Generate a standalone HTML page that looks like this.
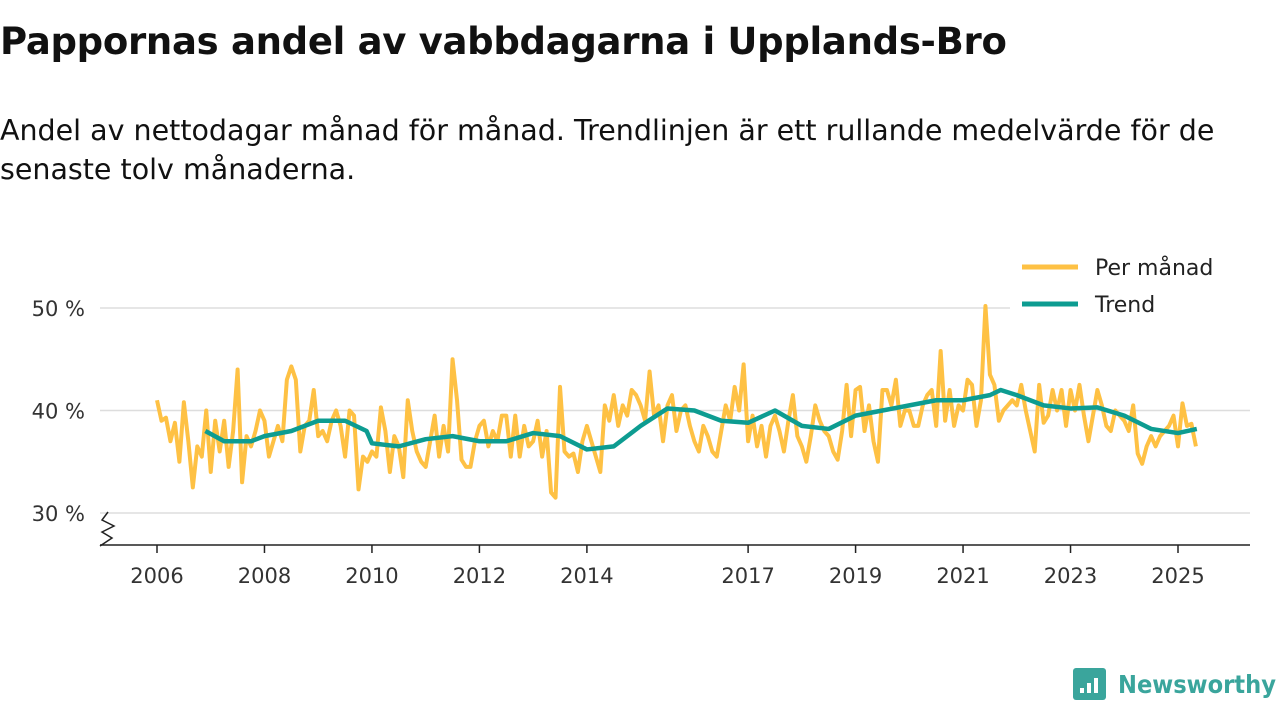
<!DOCTYPE html>
<html><head><meta charset="utf-8"><style>
body{margin:0;background:#fff;width:1280px;height:720px;overflow:hidden;font-family:"Liberation Sans","DejaVu Sans",sans-serif;color:#111}
h1{position:absolute;left:0;top:20px;margin:0;font-size:37px;font-weight:bold;font-family:"DejaVu Sans","Liberation Sans",sans-serif;letter-spacing:-0.3px;white-space:nowrap;z-index:2}
p{position:absolute;left:0;top:111px;margin:0;font-size:28.5px;line-height:39px;width:1240px;font-family:"DejaVu Sans","Liberation Sans",sans-serif;letter-spacing:0;z-index:2;padding-bottom:10px}
svg{position:absolute;left:0;top:0;z-index:1}
</style></head><body>
<h1>Pappornas andel av vabbdagarna i Upplands-Bro</h1>
<p>Andel av nettodagar månad för månad. Trendlinjen är ett rullande medelvärde för de senaste tolv månaderna.</p>
<svg id="c" width="1280" height="720"></svg>
<script>
const monthly = [
41,39,39.3,37,38.8,35,40.8,37,32.5,36.5,35.5,40,
34,39,36,39,34.5,38,44,33,37.5,36.5,38,40,
39,35.5,37,38.5,37,43,44.3,43,36,38.5,39,42,
37.5,38,37,39,40,38.5,35.5,40,39.5,32.3,35.5,35,
36,35.5,40.3,38,34,37.5,36.5,33.5,41,38,36,35,
34.5,37,39.5,35.5,38.5,36,45,41,35.2,34.5,34.5,37,
38.5,39,36.5,38,37,39.5,39.5,35.5,39.5,35.5,38.5,36.5,
37,39,35.5,38,32,31.5,42.3,36,35.5,35.8,34,37,
38.5,37,35.5,34,40.5,39,41.5,38.5,40.5,39.5,42,41.5,
40.5,39,43.8,39.5,40.5,37,40.5,41.5,38,40,40.5,38.5,
37,36,38.5,37.5,36,35.5,38,40.5,39,42.3,40,44.5,
37,39.5,36.5,38.5,35.5,38.5,39.5,38,36,39,41.5,37.5,
36.5,35,37.5,40.5,39,38,37.5,36,35.2,38,42.5,37.5,
42,42.3,38,40.5,37,35,42,42,40.5,43,38.5,40,
40,38.5,38.5,40.5,41.5,42,38.5,45.8,39,42,38.5,40.5,
40,43,42.5,38.5,41,50.2,43.5,42.5,39,40,40.5,41,
40.5,42.5,40,38,36,42.5,38.8,39.5,42,40,42,38.5,
42,40,42.5,39.5,37,39.5,42,40.5,38.5,38,40,39.5,
39,38,40.5,35.8,34.8,36.5,37.5,36.5,37.5,38,38.5,39.5,
36.5,40.7,38.5,38.7,36.5];
const trendDates = [2006.9,2007.25,2007.75,2008,2008.5,2009,2009.5,2009.9,2010,2010.5,2011,2011.5,2012,2012.5,2013,2013.5,2014,2014.5,2015,2015.5,2016,2016.5,2017,2017.5,2018,2018.5,2019,2019.5,2020,2020.5,2021,2021.5,2021.7,2022,2022.5,2023,2023.5,2024,2024.5,2025,2025.35];
const trendValues = [38,37,37,37.5,38,39,39,38,36.8,36.5,37.2,37.5,37,37,37.8,37.5,36.2,36.5,38.5,40.2,40,39,38.8,40,38.5,38.2,39.5,40,40.5,41,41,41.5,42,41.5,40.5,40.2,40.3,39.5,38.2,37.8,38.2];
const yTicks = [30,40,50];
const xTicks = [2006,2008,2010,2012,2014,2017,2019,2021,2023,2025];
const NS="http://www.w3.org/2000/svg", svg=document.getElementById('c');
const X=t=>157+(t-2006)*(1178-157)/19, Y=v=>513-(v-30)*(513-308)/20;
function mk(tag,a,parent){const e=document.createElementNS(NS,tag);for(const k in a)e.setAttribute(k,a[k]);(parent||svg).appendChild(e);return e;}
yTicks.forEach(v=>{
 const g=mk('line',{x1:100,x2:1250,y1:Y(v),y2:Y(v),stroke:'#ddd','stroke-width':1.5});
 
 
 const t=mk('text',{x:85,y:Y(v)+8,'text-anchor':'end','font-size':21,fill:'#333','font-family':'DejaVu Sans,Liberation Sans,sans-serif'});
 t.textContent=v+' %';
 
 
});
const ax=mk('line',{x1:100,x2:1250,y1:545,y2:545,stroke:'#222','stroke-width':1.5});


const br=mk('polyline',{points:'108,512 102,520 114,526 102,532 112,538 100,546',fill:'none',stroke:'#222','stroke-width':1.5});


xTicks.forEach(y=>{
 const l=mk('line',{x1:X(y),x2:X(y),y1:545,y2:553,stroke:'#222','stroke-width':1.5});
 
 
 const t=mk('text',{x:X(y),y:583,'text-anchor':'middle','font-size':21,fill:'#333','font-family':'DejaVu Sans,Liberation Sans,sans-serif'});
 t.textContent=y;
 
 
});
const mp=mk('polyline',{points:monthly.map((v,i)=>X(2006+i/12)+','+Y(v)).join(' '),fill:'none',stroke:'#fec144','stroke-width':4,'stroke-linejoin':'round'});


const tp=mk('polyline',{points:trendValues.map((v,i)=>X(trendDates[i])+','+Y(v)).join(' '),fill:'none',stroke:'#0d9c91','stroke-width':4.5,'stroke-linejoin':'round'});


mk('rect',{x:1010,y:250,width:240,height:75,fill:'#fff'});
[['Per månad','#fec144',267],['Trend','#0d9c91',304]].forEach(([n,c,y])=>{
 const l=mk('line',{x1:1022,x2:1078,y1:y,y2:y,stroke:c,'stroke-width':5});
 
 
 const t=mk('text',{x:1095,y:y+8,'font-size':22,fill:'#222','font-family':'DejaVu Sans,Liberation Sans,sans-serif'});
 t.textContent=n;
 
 
});
const lg=mk('g',{});


mk('rect',{x:1073,y:668,width:33,height:32,rx:3,fill:'#3aa59c'},lg);
[[1080,688,5],[1087,683,10],[1094,678,15]].forEach(([x,y,h])=>mk('rect',{x:x,y:y,width:4,height:h,fill:'#fff'},lg));
const lt=mk('text',{x:1118,y:693,'font-size':25,'font-weight':'bold',fill:'#3aa59c','font-family':'DejaVu Sans,Liberation Sans,sans-serif','textLength':158,'lengthAdjust':'spacingAndGlyphs'},lg);
lt.textContent='Newsworthy';
</script>
</body></html>
